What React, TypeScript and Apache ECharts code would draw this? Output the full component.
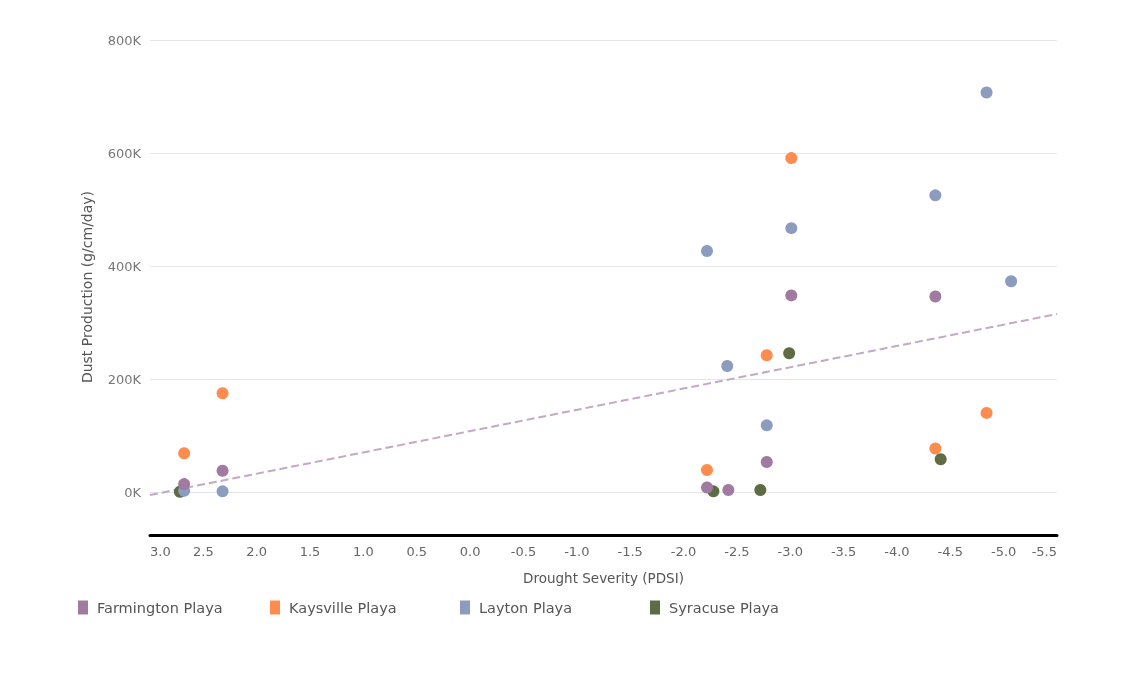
import React, { useEffect, useRef } from "react";
import * as echarts from "echarts";

const seriesNames = ["Farmington Playa", "Kaysville Playa", "Layton Playa", "Syracuse Playa"];
const seriesColors = ["#A07AA0", "#FF8C4F", "#8C9CBE", "#5E6B43"];

const farmingtonX = [2.68, 2.32, -2.22, -2.42, -2.78, -3.01, -4.36];
const farmingtonY = [14000, 37700, 8000, 3500, 53000, 348000, 346000];

const kaysvilleX = [2.68, 2.32, -2.22, -2.78, -3.01, -4.36, -4.84];
const kaysvilleY = [68500, 174700, 39000, 242000, 591000, 77000, 140000];

const laytonX = [2.68, 2.32, -2.22, -2.41, -2.78, -3.01, -4.36, -4.84, -5.07];
const laytonY = [2300, 1200, 426500, 223000, 118000, 467000, 525000, 707000, 373000];

const syracuseX = [2.72, -2.28, -2.72, -2.99, -4.41];
const syracuseY = [500, 1200, 3500, 245500, 58000];

const trendX = [3.0, -5.5];
const trendY = [-5300, 315000];

const yTicks = [0, 200000, 400000, 600000, 800000];

const FONT = "DejaVu Sans";

function pairs(xs: number[], ys: number[]) {
  return xs.map((x, i) => [x, ys[i]]);
}

export default function App() {
  const ref = useRef<HTMLDivElement>(null);
  useEffect(() => {
    if (!ref.current) return;
    const chart = echarts.init(ref.current, undefined, { renderer: "svg" });
    const dataMap: Record<string, number[][]> = {
      "Farmington Playa": pairs(farmingtonX, farmingtonY),
      "Kaysville Playa": pairs(kaysvilleX, kaysvilleY),
      "Layton Playa": pairs(laytonX, laytonY),
      "Syracuse Playa": pairs(syracuseX, syracuseY),
    };
    const drawOrder = ["Syracuse Playa", "Layton Playa", "Kaysville Playa", "Farmington Playa"];
    const legendLefts = [73, 265, 455, 645];
    chart.setOption({
      animation: false,
      color: seriesColors,
      textStyle: { fontFamily: FONT },
      grid: { left: 150, right: 68, top: 40, bottom: 183 },
      legend: seriesNames.map((n, i) => ({
        data: [n],
        left: legendLefts[i],
        top: 595,
        icon: "rect",
        itemWidth: 10,
        itemHeight: 14,
        selectedMode: false,
        textStyle: { fontFamily: FONT, fontSize: 14.5, color: "#555", padding: [0, 0, 0, 4] },
      })),
      xAxis: {
        type: "value",
        inverse: true,
        min: -5.5,
        max: 3.0,
        interval: 0.5,
        offset: 43,
        axisLine: { show: true, onZero: false, lineStyle: { color: "#000", width: 3 } },
        axisTick: { show: false },
        splitLine: { show: false },
        axisLabel: {
          color: "#666",
          fontSize: 13,
          fontFamily: FONT,
          margin: 10,
          formatter: (v: number) => v.toFixed(1),
          alignMinLabel: "right",
          alignMaxLabel: "left",
        },
        name: "Drought Severity (PDSI)",
        nameLocation: "middle",
        nameGap: 36,
        nameTextStyle: { color: "#555", fontSize: 13.5, fontFamily: FONT },
      },
      yAxis: {
        type: "value",
        min: yTicks[0],
        max: yTicks[yTicks.length - 1],
        interval: yTicks[1] - yTicks[0],
        axisLine: { show: false },
        axisTick: { show: false },
        splitLine: { show: true, lineStyle: { color: "#e6e6e6", width: 1 } },
        axisLabel: {
          color: "#777",
          fontSize: 13,
          fontFamily: FONT,
          margin: 9,
          formatter: (v: number) => `${Math.round(v / 1000)}K`,
        },
      },
      graphic: [
        {
          type: "text",
          x: 87,
          y: 287,
          rotation: Math.PI / 2,
          style: {
            text: "Dust Production (g/cm/day)",
            fill: "#555",
            fontSize: 14,
            fontFamily: FONT,
            align: "center",
            verticalAlign: "middle",
          },
        },
      ],
      series: [
        {
          type: "line",
          name: "Trend",
          data: pairs(trendX, trendY),
          symbol: "none",
          clip: false,
          silent: true,
          lineStyle: { color: "#C4A9C4", width: 2, type: [8, 4] },
          z: 1,
        },
        ...drawOrder.map((n) => ({
          type: "scatter",
          name: n,
          data: dataMap[n],
          symbolSize: 12,
          clip: false,
          itemStyle: { color: seriesColors[seriesNames.indexOf(n)], opacity: 1 },
          z: 2,
        })),
      ],
    });
    return () => chart.dispose();
  }, []);
  return <div ref={ref} style={{ position: "fixed", left: 0, top: 0, width: 1125, height: 675 }} />;
}
